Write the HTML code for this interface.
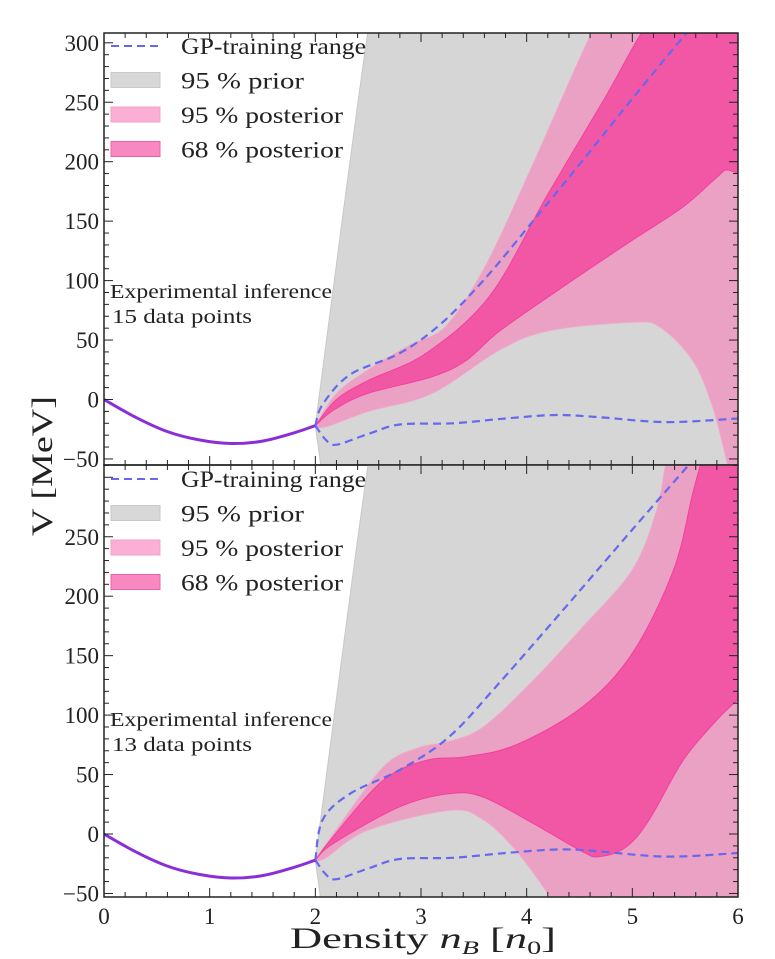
<!DOCTYPE html>
<html><head><meta charset="utf-8"><style>
html,body{margin:0;padding:0;background:#fff;overflow:hidden;width:775px;height:959px;}
svg{display:block;font-family:"Liberation Serif","DejaVu Serif",serif;}
</style></head><body>
<svg id="chart" width="775" height="959" viewBox="0 0 775 959" xmlns="http://www.w3.org/2000/svg">
<defs>
<clipPath id="clipTop"><rect x="104" y="33" width="634" height="432"/></clipPath>
<clipPath id="clipBot"><rect x="104" y="465" width="634" height="432"/></clipPath>
</defs>
<g id="layer"></g>
<text x="423" y="948" text-anchor="middle" font-size="30" fill="#222" textLength="266" lengthAdjust="spacingAndGlyphs">Density <tspan font-style="italic">n</tspan><tspan font-style="italic" font-size="19" dy="6">B</tspan><tspan dy="-6"> [</tspan><tspan font-style="italic">n</tspan><tspan font-size="19" dy="6">0</tspan><tspan dy="-6">]</tspan></text>
<text transform="translate(52,466) rotate(-90)" text-anchor="middle" font-size="30" fill="#222" textLength="140" lengthAdjust="spacingAndGlyphs">V [MeV]</text>
</svg>
<script>
// ---- data ----
const nucleonX = [0, 0.3, 0.6, 0.9, 1.2, 1.5, 1.8, 2.0];
const nucleonY = [0, -15, -27, -34, -37, -35, -28, -22];
const priorUpperX = [2.0, 2.5, 2.6];
const priorUpperY = [-22, 311, 370];
const priorLowerX = [2.0, 2.05, 2.06];
const priorLowerY = [-22, -55, -70];

// top panel (15 data points)
const topP95UpX = [2.0, 2.2, 2.5, 2.9, 3.24, 3.62, 4.06, 4.63, 4.8];
const topP95UpY = [-22, 5, 25, 46, 62, 114, 198, 311, 345];
const topP95LoX = [2.0, 2.1, 2.5, 3.1, 3.75, 4.22, 5.0, 5.26, 5.57, 5.76, 5.9, 5.95];
const topP95LoY = [-22, -23, -10, 5, 42, 58, 65, 61, 33, -6, -54, -70];
const topP68UpX = [2.0, 2.2, 2.5, 3.05, 3.65, 4.19, 4.75, 5.1, 5.3];
const topP68UpY = [-22, 0, 16, 39, 87, 171, 255, 310, 345];
const topP68LoX = [2.0, 2.17, 2.49, 3.1, 3.43, 3.75, 4.38, 5.0, 5.48, 5.8, 5.89, 6.0];
const topP68LoY = [-22, -9, 5, 19, 33, 58, 97, 134, 162, 187, 193, 190];
const topGpUpX = [2.0, 2.07, 2.33, 2.8, 3.18, 3.59, 4.06, 4.53, 5.0, 5.54, 5.7];
const topGpUpY = [-22, -4, 21, 39, 63, 100, 150, 201, 253, 311, 328];
const topGpLoX = [2.0, 2.1, 2.2, 2.5, 2.8, 3.3, 3.8, 4.28, 4.7, 5.32, 6.0];
const topGpLoY = [-22, -34, -38, -29, -21, -20, -16, -13, -15, -19, -16];

// bottom panel (13 data points)
const botP95UpX = [2.0, 2.17, 2.64, 2.96, 3.27, 3.59, 4.06, 4.53, 5.0, 5.23, 5.32, 5.4];
const botP95UpY = [-22, 0, 56, 72, 78, 90, 129, 174, 222, 272, 312, 340];
const botP95LoX = [2.0, 2.1, 2.49, 3.27, 3.59, 3.9, 4.22, 4.3];
const botP95LoY = [-22, -20, 3, 20, 12, -14, -53, -70];
const botP68UpX = [2.0, 2.17, 2.64, 3.05, 3.43, 3.9, 4.53, 5.0, 5.39, 5.57, 5.65, 5.7];
const botP68UpY = [-22, -2, 45, 62, 65, 75, 107, 152, 222, 286, 312, 330];
const botP68LoX = [2.0, 2.17, 2.8, 3.27, 3.59, 4.06, 4.53, 4.69, 4.94, 5.16, 5.48, 5.8, 6.0];
const botP68LoY = [-22, -8, 23, 34, 31, 9, -15, -19, -11, 12, 62, 96, 113];
const botGpUpX = [2.0, 2.07, 2.33, 2.8, 3.27, 3.75, 4.38, 5.0, 5.54, 5.7];
const botGpUpY = [-22, 12, 34, 54, 82, 128, 192, 256, 311, 327];
const botGpLoX = [2.0, 2.1, 2.2, 2.5, 2.8, 3.3, 3.8, 4.28, 4.6, 5.32, 6.0];
const botGpLoY = [-22, -34, -38, -29, -21, -20, -16, -13, -14, -19, -16];

const xTicks = [0, 1, 2, 3, 4, 5, 6];
const yTicksTop = [-50, 0, 50, 100, 150, 200, 250, 300];
const yTicksBot = [-50, 0, 50, 100, 150, 200, 250];

// ---- layout ----
const X0 = 104, X1 = 738;
const sx = v => X0 + v * (X1 - X0) / 6;
const YS = 1.189;
const panels = [
  {top:33, bot:465, zero:399.5, clip:'clipTop', name:'top', yt:yTicksTop,
   p95u:[topP95UpX,topP95UpY], p95l:[topP95LoX,topP95LoY], p68u:[topP68UpX,topP68UpY], p68l:[topP68LoX,topP68LoY],
   gu:[topGpUpX,topGpUpY], gl:[topGpLoX,topGpLoY], note:'15 data points', noteY:298, legY:45},
  {top:465, bot:897, zero:834, clip:'clipBot', name:'bottom', yt:yTicksBot,
   p95u:[botP95UpX,botP95UpY], p95l:[botP95LoX,botP95LoY], p68u:[botP68UpX,botP68UpY], p68l:[botP68LoX,botP68LoY],
   gu:[botGpUpX,botGpUpY], gl:[botGpLoX,botGpLoY], note:'13 data points', noteY:726, legY:478}
];
const NS = 'http://www.w3.org/2000/svg';
const layer = document.getElementById('layer');
function mk(tag, attrs, parent){ const e=document.createElementNS(NS,tag); for(const k in attrs) e.setAttribute(k,attrs[k]); (parent||layer).appendChild(e); return e; }

function pts(xs, ys, sy, lo, hi){ return xs.map((x,i)=>[sx(x), Math.max(lo, Math.min(hi, sy(ys[i])))]); }
function smooth(p, move){
  let d = (move? 'M':'L') + p[0][0].toFixed(1)+','+p[0][1].toFixed(1);
  for(let i=0;i<p.length-1;i++){
    const p0=p[Math.max(i-1,0)], p1=p[i], p2=p[i+1], p3=p[Math.min(i+2,p.length-1)];
    const c1=[p1[0]+(p2[0]-p0[0])/6, p1[1]+(p2[1]-p0[1])/6];
    const c2=[p2[0]-(p3[0]-p1[0])/6, p2[1]-(p3[1]-p1[1])/6];
    d+=` C${c1[0].toFixed(1)},${c1[1].toFixed(1)} ${c2[0].toFixed(1)},${c2[1].toFixed(1)} ${p2[0].toFixed(1)},${p2[1].toFixed(1)}`;
  }
  return d;
}
function bandSimple(up, lo, sy, P){
  const T = P.top-20, B = P.bot+20;
  const u = pts(up[0], up[1], sy, T, B);
  const l = pts(lo[0], lo[1], sy, T, B).reverse();
  let d = smooth(u, true);
  const lu=u[u.length-1], fl=l[0];
  d += ` L${lu[0]},${T} L${X1+2},${T} L${X1+2},${B} L${fl[0]},${B} L${fl[0]},${fl[1]}`;
  d += ' ' + smooth(l, false) + ' Z';
  return d;
}

panels.forEach(P=>{
  const sy = v => P.zero - v*YS;
  const g = mk('g',{'clip-path':`url(#${P.clip})`});
  
  
  const pr = mk('path',{d:bandSimple([priorUpperX,priorUpperY],[priorLowerX,priorLowerY],sy,P),fill:'#d6d6d6',stroke:'#c8c8c8','stroke-width':1},g);
  
  
  const b95 = mk('path',{d:bandSimple(P.p95u,P.p95l,sy,P),fill:'#eaa1c3',stroke:'#f3a6cb','stroke-width':1},g);
  
  
  const b68 = mk('path',{d:bandSimple(P.p68u,P.p68l,sy,P),fill:'#f257a6',stroke:'#f2409c','stroke-width':1},g);
  
  
  const T = P.top-20, B = P.bot+20;
  const gu = mk('path',{d:smooth(pts(P.gu[0],P.gu[1],sy,T,B),true),fill:'none',stroke:'#6868ee','stroke-width':2.2,'stroke-dasharray':'8,5'},g);
  
  
  const gl = mk('path',{d:smooth(pts(P.gl[0],P.gl[1],sy,T,B),true),fill:'none',stroke:'#6868ee','stroke-width':2.2,'stroke-dasharray':'8,5'},g);
  
  
  const nc = mk('path',{d:smooth(pts(nucleonX,nucleonY,sy,T,B),true),fill:'none',stroke:'#8a2fd8','stroke-width':3},g);
  
  

  const fr = mk('rect',{x:X0,y:P.top,width:X1-X0,height:P.bot-P.top,fill:'none',stroke:'#222','stroke-width':1.5});
  
  
  for(let i=0; i<=30; i++){
    const v=i*0.2;
    const major = i%5===0;
    const L = major?9:5;
    mk('line',{x1:sx(v),x2:sx(v),y1:P.bot,y2:P.bot-L,stroke:'#222','stroke-width':1});
    mk('line',{x1:sx(v),x2:sx(v),y1:P.top,y2:P.top+L,stroke:'#222','stroke-width':1});
  }
  for(let v=-50; v<=310; v+=10){
    const yy = sy(v); if(yy<P.top-0.5||yy>P.bot+0.5) continue;
    const major = v%50===0; const L = major?9:5;
    mk('line',{x1:X0,x2:X0+L,y1:yy,y2:yy,stroke:'#222','stroke-width':1});
    mk('line',{x1:X1,x2:X1-L,y1:yy,y2:yy,stroke:'#222','stroke-width':1});
  }
  P.yt.forEach(v=>{
    const t = mk('text',{x:X0-5,y:sy(v)+8,'text-anchor':'end','font-size':23,fill:'#222'});
    t.textContent = v<0 ? '\u2212'+Math.abs(v) : String(v);
    
    
  });
  const n1 = mk('text',{x:110,y:P.noteY,'font-size':20,fill:'#222',textLength:222,lengthAdjust:'spacingAndGlyphs'}); n1.textContent='Experimental inference';
  
  
  const n2 = mk('text',{x:112,y:P.noteY+25,'font-size':20,fill:'#222',textLength:140,lengthAdjust:'spacingAndGlyphs'}); n2.textContent=P.note;
  
  
  const lg = mk('g',{});
  
  
  const ly = P.legY;
  mk('line',{x1:111,x2:160,y1:ly+1,y2:ly+1,stroke:'#6868ee','stroke-width':2,'stroke-dasharray':'8,5'},lg);
  const labels = ['GP-training range','95 % prior','95 % posterior','68 % posterior'];
  const widths = [185,123,162,162];
  const fills = [null,'#d8d8d8','#fbafd4','#f888c0'];
  const strokes = [null,'#c8c8c8','#f5a0c8','#f060a8'];
  labels.forEach((s,i)=>{
    const yy = ly + i*34.5;
    if(fills[i]) mk('rect',{x:111,y:yy-7,width:49,height:15,fill:fills[i],stroke:strokes[i],'stroke-width':1},lg);
    const t = mk('text',{x:181,y:yy+9,'font-size':23,fill:'#222',textLength:widths[i],lengthAdjust:'spacingAndGlyphs'},lg); t.textContent=s;
    
    
  });
});
xTicks.forEach(v=>{
  const t = mk('text',{x:sx(v),y:924,'text-anchor':'middle','font-size':23,fill:'#222'});
  t.textContent=String(v);
  
  
});
</script>
</body></html>
